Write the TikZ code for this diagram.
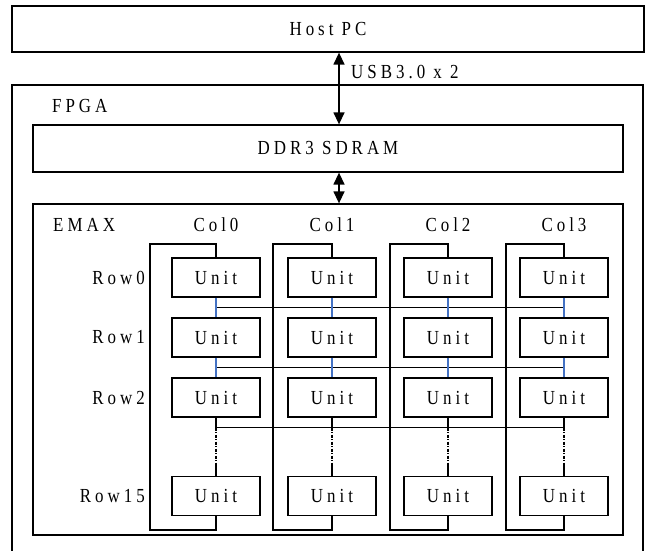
\documentclass[tikz,border=0pt]{standalone}
\usepackage{fontspec}
\setmainfont{Liberation Serif}[FakeStretch=0.85,LetterSpace=20]
\usepackage{xcolor}
\usetikzlibrary{arrows.meta,calc}
\definecolor{linkblue}{RGB}{68,114,196}
\tikzset{
    blk/.style={draw, line width=1.3bp, inner sep=0pt},
    unitbox/.style={blk, minimum width=88bp, minimum height=39bp},
    lbl/.style={inner sep=0pt, font=\fontsize{20}{22}\selectfont},
    wire/.style={line width=1.3bp},
    bothway/.style={line width=1.4bp, {Triangle[length=12bp,width=11bp]}-{Triangle[length=12bp,width=11bp]}},
}

\begin{document}
\begin{tikzpicture}[x=1bp, y=-1bp]
    \useasboundingbox (0,0) rectangle (648,551);
    \node[blk, minimum width=632bp, minimum height=46bp, lbl] (host) at (328,29) {Host PC};
    \draw[wire] (12,551) -- (12,85) -- (643,85) -- (643,551);
    \node[lbl, anchor=west] (fpga) at (52,106) {FPGA};
    \node[blk, minimum width=590bp, minimum height=47bp, lbl] (ddr) at (328,148.5) {DDR3 SDRAM};
    \node[blk, minimum width=590bp, minimum height=331bp] (emax) at (328,369.5) {};
    \node[lbl, anchor=west] (emaxlbl) at (53,225) {EMAX};
    \draw[bothway] ([xshift=11bp]host.south) -- ([xshift=11bp]ddr.north);
    \node[lbl, anchor=west] (usb) at (351,72) {USB3.0 x 2};
    \draw[bothway] ([xshift=11bp]ddr.south) -- ([xshift=11bp]emax.north);

    \foreach \r/\y in {0/277.5, 1/337.5, 2/397.5, 15/496} {
        \node[lbl, anchor=east] (row\r) at (145,\y) {Row\r};
    }
    \foreach \c/\bx [evaluate=\c as \x using 216+116*\c] in {0/150, 1/273, 2/390, 3/506} {
        \node[lbl] (col\c) at (\x,225) {Col\c};
        \foreach \r/\y in {0/277.5, 1/337.5, 2/397.5, 15/496} {
            \node[unitbox, lbl] (u\c-\r) at (\x,\y) {Unit};
        }
        \draw[wire] (u\c-0.north) |- (\bx,244) -- (\bx,530) -| (u\c-15.south);
    }

    \draw[wire] ($(u0-0.south)!.5!(u0-1.north)$) -- ($(u3-0.south)!.5!(u3-1.north)$);
    \draw[wire] ($(u0-1.south)!.5!(u0-2.north)$) -- ($(u3-1.south)!.5!(u3-2.north)$);
    \draw[wire] ([yshift=-10bp]u0-2.south) -- ([yshift=-10bp]u3-2.south);
    \foreach \c in {0,...,3} {
        \draw[wire, linkblue] (u\c-0.south) -- (u\c-1.north);
        \draw[wire, linkblue] (u\c-1.south) -- (u\c-2.north);
        \draw[wire] (u\c-2.south) -- ([yshift=-10bp]u\c-2.south);
        \draw[wire, dash pattern=on 3bp off 1.5bp on 1bp off 1.5bp] ([yshift=-10bp]u\c-2.south) -- ([yshift=11bp]u\c-15.north);
        \draw[wire] ([yshift=11bp]u\c-15.north) -- (u\c-15.north);
    }
\end{tikzpicture}
\end{document}
